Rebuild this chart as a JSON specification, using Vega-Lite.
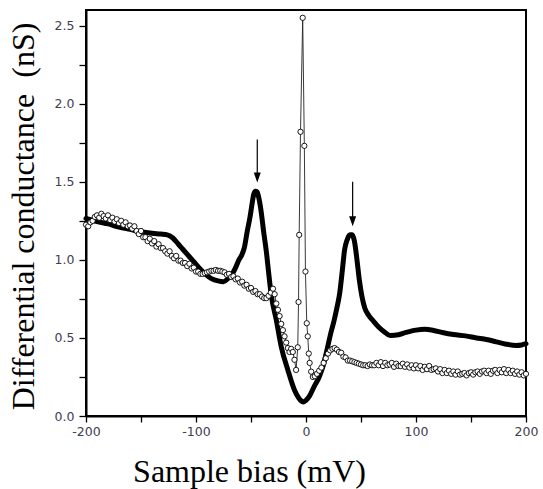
{
  "$schema": "https://vega.github.io/schema/vega-lite/v6.json",
  "width": 440,
  "height": 406,
  "autosize": {"type": "none"},
  "padding": {"left": 86, "top": 10, "right": 17, "bottom": 73},
  "background": "white",
  "config": {
    "view": {"stroke": "black", "strokeWidth": 2},
    "axis": {"grid": false}
  },
  "datasets": {
    "thick": [
      {"x": -200, "y": 1.265}, {"x": -190, "y": 1.245}, {"x": -180, "y": 1.23}, {"x": -170, "y": 1.21},
      {"x": -160, "y": 1.195}, {"x": -150, "y": 1.18}, {"x": -140, "y": 1.17}, {"x": -132, "y": 1.165},
      {"x": -126, "y": 1.16}, {"x": -121, "y": 1.14}, {"x": -116, "y": 1.1}, {"x": -111, "y": 1.06},
      {"x": -106, "y": 1.02}, {"x": -101, "y": 0.98}, {"x": -96, "y": 0.94}, {"x": -91, "y": 0.905},
      {"x": -86, "y": 0.88}, {"x": -80, "y": 0.865}, {"x": -75, "y": 0.86}, {"x": -71, "y": 0.88},
      {"x": -67, "y": 0.91}, {"x": -64, "y": 0.95}, {"x": -61, "y": 1.0}, {"x": -58.5, "y": 1.03},
      {"x": -56, "y": 1.08}, {"x": -53.5, "y": 1.18}, {"x": -51, "y": 1.27}, {"x": -49, "y": 1.36},
      {"x": -47.5, "y": 1.42}, {"x": -46, "y": 1.44}, {"x": -44.5, "y": 1.435}, {"x": -43, "y": 1.4},
      {"x": -41, "y": 1.32}, {"x": -38.5, "y": 1.18}, {"x": -36, "y": 1.05}, {"x": -34, "y": 0.92},
      {"x": -31.5, "y": 0.77}, {"x": -27, "y": 0.615}, {"x": -22.5, "y": 0.444}, {"x": -16.5, "y": 0.295},
      {"x": -10.5, "y": 0.167}, {"x": -7, "y": 0.12}, {"x": -4, "y": 0.095}, {"x": -2, "y": 0.09},
      {"x": 0, "y": 0.1}, {"x": 3, "y": 0.125}, {"x": 7.5, "y": 0.19}, {"x": 12, "y": 0.25},
      {"x": 15.5, "y": 0.32}, {"x": 19, "y": 0.42}, {"x": 22.5, "y": 0.53}, {"x": 25.5, "y": 0.61},
      {"x": 28, "y": 0.69}, {"x": 30.5, "y": 0.78}, {"x": 33, "y": 0.93}, {"x": 35, "y": 1.06},
      {"x": 37.5, "y": 1.13}, {"x": 40, "y": 1.16}, {"x": 42, "y": 1.16}, {"x": 44, "y": 1.12},
      {"x": 46, "y": 1.02}, {"x": 48.5, "y": 0.87}, {"x": 51, "y": 0.76}, {"x": 53.5, "y": 0.69},
      {"x": 57, "y": 0.645}, {"x": 61, "y": 0.61}, {"x": 66, "y": 0.57}, {"x": 71, "y": 0.54},
      {"x": 77, "y": 0.515}, {"x": 84, "y": 0.52}, {"x": 91, "y": 0.535}, {"x": 100, "y": 0.55},
      {"x": 108, "y": 0.555}, {"x": 116, "y": 0.548}, {"x": 124, "y": 0.535}, {"x": 134, "y": 0.522},
      {"x": 145, "y": 0.513}, {"x": 155, "y": 0.5}, {"x": 164, "y": 0.49}, {"x": 173, "y": 0.475},
      {"x": 182, "y": 0.46}, {"x": 191, "y": 0.452}, {"x": 196, "y": 0.455}, {"x": 200, "y": 0.463}
    ],
    "circ": [
      {"x": -200, "y": 1.225}, {"x": -198, "y": 1.215}, {"x": -196, "y": 1.24}, {"x": -194, "y": 1.25},
      {"x": -192, "y": 1.275}, {"x": -190, "y": 1.285}, {"x": -188, "y": 1.27}, {"x": -186, "y": 1.295},
      {"x": -184, "y": 1.28}, {"x": -182, "y": 1.265}, {"x": -180, "y": 1.285}, {"x": -178, "y": 1.255},
      {"x": -176, "y": 1.27}, {"x": -174, "y": 1.245}, {"x": -172, "y": 1.26}, {"x": -170, "y": 1.235},
      {"x": -168, "y": 1.25}, {"x": -166, "y": 1.225}, {"x": -164, "y": 1.24}, {"x": -162, "y": 1.215},
      {"x": -160, "y": 1.22}, {"x": -158, "y": 1.2}, {"x": -156, "y": 1.215}, {"x": -154, "y": 1.185},
      {"x": -152, "y": 1.165}, {"x": -150, "y": 1.185}, {"x": -148, "y": 1.145}, {"x": -146, "y": 1.145},
      {"x": -144, "y": 1.12}, {"x": -142, "y": 1.135}, {"x": -140, "y": 1.105}, {"x": -138, "y": 1.12},
      {"x": -136, "y": 1.085}, {"x": -134, "y": 1.1}, {"x": -132, "y": 1.075}, {"x": -130, "y": 1.075},
      {"x": -128, "y": 1.055}, {"x": -126, "y": 1.04}, {"x": -124, "y": 1.055}, {"x": -122, "y": 1.025},
      {"x": -120, "y": 1.01}, {"x": -118, "y": 1.025}, {"x": -116, "y": 0.995}, {"x": -114, "y": 0.995},
      {"x": -112, "y": 0.98}, {"x": -110, "y": 0.98}, {"x": -108, "y": 0.96}, {"x": -106, "y": 0.975},
      {"x": -104, "y": 0.945}, {"x": -102, "y": 0.95}, {"x": -100, "y": 0.925}, {"x": -98, "y": 0.925},
      {"x": -96, "y": 0.91}, {"x": -94, "y": 0.91}, {"x": -92, "y": 0.915}, {"x": -90, "y": 0.92},
      {"x": -88, "y": 0.925}, {"x": -86, "y": 0.93}, {"x": -84, "y": 0.93}, {"x": -82, "y": 0.935},
      {"x": -80, "y": 0.93}, {"x": -78, "y": 0.93}, {"x": -76, "y": 0.925}, {"x": -74, "y": 0.92},
      {"x": -72, "y": 0.905}, {"x": -70, "y": 0.91}, {"x": -68, "y": 0.89}, {"x": -66, "y": 0.895},
      {"x": -64, "y": 0.875}, {"x": -62, "y": 0.88}, {"x": -60, "y": 0.855}, {"x": -58, "y": 0.86},
      {"x": -56, "y": 0.835}, {"x": -54, "y": 0.84}, {"x": -52, "y": 0.815}, {"x": -50, "y": 0.82},
      {"x": -48, "y": 0.795}, {"x": -46, "y": 0.8}, {"x": -44, "y": 0.78}, {"x": -42, "y": 0.78},
      {"x": -40, "y": 0.765}, {"x": -38, "y": 0.755}, {"x": -36, "y": 0.755}, {"x": -34, "y": 0.77},
      {"x": -32, "y": 0.79}, {"x": -30, "y": 0.815}, {"x": -28.5, "y": 0.78}, {"x": -27, "y": 0.72},
      {"x": -25.5, "y": 0.68}, {"x": -24, "y": 0.64}, {"x": -22.5, "y": 0.59}, {"x": -21, "y": 0.55},
      {"x": -19.5, "y": 0.51}, {"x": -18, "y": 0.47}, {"x": -16.5, "y": 0.435}, {"x": -15, "y": 0.41},
      {"x": -13.5, "y": 0.43}, {"x": -12, "y": 0.41}, {"x": -10.5, "y": 0.36}, {"x": -9, "y": 0.295},
      {"x": -7.5, "y": 0.44}, {"x": -6.8, "y": 0.73}, {"x": -6.2, "y": 1.16}, {"x": -5, "y": 1.82},
      {"x": -3, "y": 2.55}, {"x": -1.5, "y": 1.73}, {"x": -0.5, "y": 0.925}, {"x": 0.7, "y": 0.594},
      {"x": 1.6, "y": 0.51}, {"x": 2.5, "y": 0.4}, {"x": 3.3, "y": 0.34}, {"x": 4.7, "y": 0.284},
      {"x": 6.2, "y": 0.25}, {"x": 8, "y": 0.255}, {"x": 10, "y": 0.27}, {"x": 12, "y": 0.29},
      {"x": 14, "y": 0.31}, {"x": 16, "y": 0.34}, {"x": 18, "y": 0.37}, {"x": 20, "y": 0.4},
      {"x": 22, "y": 0.42}, {"x": 24, "y": 0.43}, {"x": 26, "y": 0.435}, {"x": 28, "y": 0.425},
      {"x": 30, "y": 0.41}, {"x": 32, "y": 0.405}, {"x": 34, "y": 0.38}, {"x": 36, "y": 0.375},
      {"x": 38, "y": 0.355}, {"x": 40, "y": 0.355}, {"x": 42, "y": 0.35}, {"x": 44, "y": 0.345},
      {"x": 46, "y": 0.34}, {"x": 48, "y": 0.335}, {"x": 50, "y": 0.33}, {"x": 52, "y": 0.325},
      {"x": 54, "y": 0.325}, {"x": 56, "y": 0.32}, {"x": 58, "y": 0.33}, {"x": 60, "y": 0.325},
      {"x": 62, "y": 0.325}, {"x": 64, "y": 0.34}, {"x": 66, "y": 0.325}, {"x": 68, "y": 0.345},
      {"x": 70, "y": 0.32}, {"x": 72, "y": 0.34}, {"x": 74, "y": 0.325}, {"x": 76, "y": 0.33},
      {"x": 78, "y": 0.34}, {"x": 80, "y": 0.315}, {"x": 82, "y": 0.335}, {"x": 84, "y": 0.32},
      {"x": 86, "y": 0.32}, {"x": 88, "y": 0.335}, {"x": 90, "y": 0.315}, {"x": 92, "y": 0.33},
      {"x": 94, "y": 0.31}, {"x": 96, "y": 0.325}, {"x": 98, "y": 0.305}, {"x": 100, "y": 0.325},
      {"x": 102, "y": 0.305}, {"x": 104, "y": 0.32}, {"x": 106, "y": 0.295}, {"x": 108, "y": 0.315},
      {"x": 110, "y": 0.3}, {"x": 112, "y": 0.32}, {"x": 114, "y": 0.295}, {"x": 116, "y": 0.3},
      {"x": 118, "y": 0.305}, {"x": 120, "y": 0.285}, {"x": 122, "y": 0.3}, {"x": 124, "y": 0.275},
      {"x": 126, "y": 0.295}, {"x": 128, "y": 0.275}, {"x": 130, "y": 0.29}, {"x": 132, "y": 0.27},
      {"x": 134, "y": 0.285}, {"x": 136, "y": 0.265}, {"x": 138, "y": 0.285}, {"x": 140, "y": 0.265},
      {"x": 142, "y": 0.27}, {"x": 144, "y": 0.275}, {"x": 146, "y": 0.26}, {"x": 148, "y": 0.275},
      {"x": 150, "y": 0.28}, {"x": 152, "y": 0.265}, {"x": 154, "y": 0.28}, {"x": 156, "y": 0.285},
      {"x": 158, "y": 0.27}, {"x": 160, "y": 0.285}, {"x": 162, "y": 0.29}, {"x": 164, "y": 0.275},
      {"x": 166, "y": 0.29}, {"x": 168, "y": 0.27}, {"x": 170, "y": 0.29}, {"x": 172, "y": 0.295},
      {"x": 174, "y": 0.275}, {"x": 176, "y": 0.295}, {"x": 178, "y": 0.28}, {"x": 180, "y": 0.3},
      {"x": 182, "y": 0.275}, {"x": 184, "y": 0.295}, {"x": 186, "y": 0.275}, {"x": 188, "y": 0.29},
      {"x": 190, "y": 0.27}, {"x": 192, "y": 0.285}, {"x": 194, "y": 0.265}, {"x": 196, "y": 0.28},
      {"x": 198, "y": 0.26}, {"x": 200, "y": 0.27}
    ],
    "arrows": [
      {"x": -44.3, "y": 1.77, "y2": 1.52, "tip": 1.495},
      {"x": 42.4, "y": 1.5, "y2": 1.24, "tip": 1.215}
    ]
  },
  "encoding": {
    "x": {
      "field": "x",
      "type": "quantitative",
      "scale": {"domain": [-200, 200], "nice": false, "zero": false},
      "axis": {
        "values": [-200, -150, -100, -50, 0, 50, 100, 150, 200],
        "labelExpr": "datum.value % 100 === 0 ? '' + datum.value : ''",
        "labelFlush": false,
        "labelOverlap": false,
        "labelFont": "DejaVu Sans",
        "labelFontSize": 12.5,
        "labelColor": "#3d3d4f",
        "labelPadding": 3,
        "tickSize": 6,
        "tickColor": "black",
        "tickWidth": 1.3,
        "domainColor": "black",
        "domainWidth": 2,
        "title": "Sample bias (mV)",
        "titleFont": "Liberation Serif",
        "titleFontSize": 32,
        "titleFontWeight": "normal",
        "titleColor": "black",
        "titleAlign": "center",
        "titleBaseline": "alphabetic",
        "titleX": 163,
        "titleY": 65
      }
    },
    "y": {
      "field": "y",
      "type": "quantitative",
      "scale": {"domain": [0, 2.6], "nice": false, "zero": false},
      "axis": {
        "values": [0, 0.25, 0.5, 0.75, 1, 1.25, 1.5, 1.75, 2, 2.25, 2.5],
        "labelExpr": "(datum.value * 4) % 2 === 0 ? format(datum.value, '.1f') : ''",
        "labelFlush": false,
        "labelOverlap": false,
        "labelFont": "DejaVu Sans",
        "labelFontSize": 12.5,
        "labelColor": "#3d3d4f",
        "labelPadding": 5,
        "tickSize": 7,
        "tickColor": "black",
        "tickWidth": 1.3,
        "domainColor": "black",
        "domainWidth": 2,
        "title": "Differential conductance\u00a0 (nS)",
        "titleFont": "Liberation Serif",
        "titleFontSize": 32,
        "titleFontWeight": "normal",
        "titleColor": "black",
        "titleAngle": -90,
        "titleAlign": "center",
        "titleBaseline": "alphabetic",
        "titleX": -53,
        "titleY": 206
      }
    }
  },
  "layer": [
    {
      "data": {"name": "thick"},
      "mark": {"type": "line", "color": "black", "strokeWidth": 5, "interpolate": "monotone", "strokeJoin": "round", "strokeCap": "round"}
    },
    {
      "data": {"name": "circ"},
      "mark": {"type": "line", "color": "#222222", "strokeWidth": 0.9}
    },
    {
      "data": {"name": "circ"},
      "mark": {"type": "point", "shape": "circle", "size": 28, "filled": true, "fill": "white", "stroke": "black", "strokeWidth": 0.9, "opacity": 1}
    },
    {
      "data": {"name": "arrows"},
      "mark": {"type": "rule", "color": "black", "strokeWidth": 1.2},
      "encoding": {"y2": {"field": "y2"}}
    },
    {
      "data": {"name": "arrows"},
      "mark": {"type": "point", "shape": "M-0.35,-1L0.35,-1L0,0Z", "size": 400, "filled": true, "color": "black", "opacity": 1},
      "encoding": {"y": {"field": "tip", "type": "quantitative"}}
    }
  ]
}
